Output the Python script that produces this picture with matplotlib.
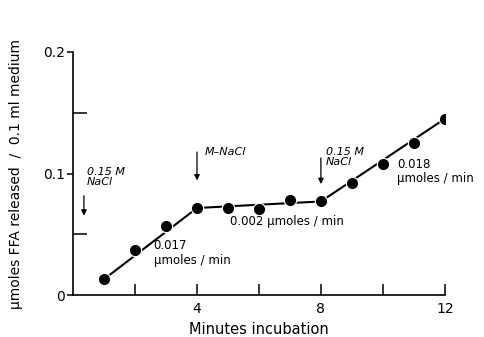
import numpy as np
import matplotlib
matplotlib.use("Agg")
import matplotlib.pyplot as plt

# measured points
minutes = [1, 2, 3, 4, 5, 6, 7, 8, 9, 10, 11, 12]
ffa = [0.013, 0.037, 0.057, 0.0716, 0.0716, 0.071, 0.078, 0.077,
       0.092, 0.108, 0.125, 0.145]

# fitted segments drawn through the points
fit_x = [[1, 4], [4, 8], [8, 12]]
fit_y = [[0.013, 0.0716], [0.0716, 0.077], [0.077, 0.145]]

# additions: (arrow x, arrow top, arrow bottom, text x, text top, label)
arrows = [(0.35, 0.084, 0.063, 0.45, 0.105, "0.15 M\nNaCl"),
          (4.0, 0.120, 0.092, 4.25, 0.122, "M\u2013NaCl"),
          (8.0, 0.115, 0.089, 8.15, 0.122, "0.15 M\nNaCl")]

rates = [(2.6, 0.046, "0.017\n\u00b5moles / min"),
         (5.05, 0.066, "0.002 \u00b5moles / min"),
         (10.45, 0.113, "0.018\n\u00b5moles / min")]

plt.rcParams['font.family'] = ['DejaVu Sans']

fig = plt.figure(figsize=(4.84, 3.37), dpi=100)
ax = fig.add_axes([0.151, 0.1246, 0.768, 0.7211])

for xs, ys in zip(fit_x, fit_y):
    ax.plot(xs, ys, color="black", lw=1.5, zorder=2)
ax.plot(minutes, ffa, "o", color="black", ms=7.5,
        mec="white", mew=2.2, zorder=3)
ax.plot(minutes, ffa, "o", color="black", ms=7, zorder=4)

for x, top, bot, tx, ty, label in arrows:
    ax.annotate("", xy=(x, bot), xytext=(x, top),
                arrowprops=dict(arrowstyle="-|>", color="black", lw=0.9,
                                mutation_scale=8))
    ax.text(tx, ty, label, fontsize=8, style="italic",
            ha="left", va="top", linespacing=1.0)

for x, y, label in rates:
    ax.text(x, y, label, fontsize=8.5, ha="left", va="top",
            linespacing=1.15)

ax.set_xlim(0, 12)
ax.set_ylim(0, 0.2)
ax.spines["top"].set_visible(False)
ax.spines["right"].set_visible(False)
ax.spines["left"].set_linewidth(1.2)
ax.spines["bottom"].set_linewidth(1.2)

ax.set_xticks([2, 4, 6, 8, 10, 12])
ax.set_xticklabels(["", "4", "", "8", "", "12"])
ax.tick_params(axis="x", direction="in", length=8, width=1.1,
               labelsize=10, pad=5)
ax.set_yticks([0, 0.1, 0.2])
ax.set_yticklabels(["0", "0.1", "0.2"])
ax.set_yticks([0.05, 0.15], minor=True)
ax.tick_params(axis="y", which="major", direction="out", length=4,
               width=1.1, labelsize=10, pad=2)
ax.tick_params(axis="y", which="minor", direction="in", length=10,
               width=1.1)

ax.set_xlabel("Minutes incubation", fontsize=10.5, labelpad=4)
ax.set_ylabel("\u00b5moles FFA released  /  0.1 ml medium", fontsize=10,
              labelpad=14)

fig.savefig("out.png", dpi=100)
